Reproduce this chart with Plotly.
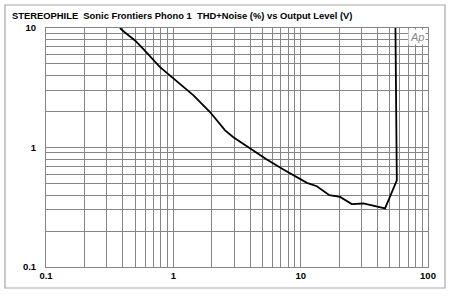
import plotly.graph_objects as go

# Output level (V) and THD+N (%)
output_v = [0.381, 0.41, 0.50, 0.58, 0.786, 0.97, 1.44, 1.94, 2.55, 2.96, 4.0, 5.42, 7.32,
            9.89, 11.2, 13.4, 16.8, 20.4, 25.2, 31.1, 39.6, 46.0, 56.9, 55.5]
thd_pct = [10.0, 9.3, 7.87, 6.7, 4.71, 3.88, 2.73, 1.98, 1.39, 1.22, 0.98, 0.794, 0.655,
           0.551, 0.506, 0.474, 0.399, 0.386, 0.336, 0.340, 0.323, 0.309, 0.532, 10.0]

x_tick_vals = [0.1, 1, 10, 100]
x_tick_text = ["0.1", "1", "10", "100"]
y_tick_vals = [0.1, 1, 10]
y_tick_text = ["0.1", "1", "10"]

title_text = "STEREOPHILE  Sonic Frontiers Phono 1  THD+Noise (%) vs Output Level (V)"

x_minor = [m * d for d in (0.1, 1, 10) for m in range(2, 10)]
y_minor = [m * d for d in (0.1, 1) for m in range(2, 10)]

FONT = "Liberation Sans, Arial, sans-serif"
GRID = "#858585"

fig = go.Figure()
fig.add_trace(go.Scatter(x=output_v, y=thd_pct, mode="lines",
                         line=dict(color="black", width=1.8), showlegend=False,
                         cliponaxis=True))

L, R, T, B = 46, 22, 28, 29
W, H = 450, 296
pw, ph = W - L - R, H - T - B

fig.update_layout(
    width=W, height=H,
    margin=dict(l=L, r=R, t=T, b=B, pad=0),
    paper_bgcolor="white", plot_bgcolor="white",
    font=dict(family=FONT, size=9.5, color="black"),
    xaxis=dict(type="log", range=[-1, 2], tickvals=x_tick_vals, ticktext=x_tick_text,
               showgrid=True, gridcolor=GRID, gridwidth=1, ticks="",
               showline=True, linecolor=GRID, mirror=True, zeroline=False,
               tickfont=dict(family=FONT, size=9.5, color="black", weight="bold"),
               minor=dict(tickvals=x_minor, showgrid=True, gridcolor=GRID, gridwidth=1, ticks="")),
    yaxis=dict(type="log", range=[-1, 1], tickvals=y_tick_vals, ticktext=y_tick_text,
               showgrid=True, gridcolor=GRID, gridwidth=1, ticks="",
               showline=True, linecolor=GRID, mirror=True, zeroline=False,
               ticklabelstandoff=7,
               tickfont=dict(family=FONT, size=9.5, color="black", weight="bold"),
               minor=dict(tickvals=y_minor, showgrid=True, gridcolor=GRID, gridwidth=1, ticks="")),
)

# title
fig.add_annotation(text="<b>" + title_text + "</b>", xref="paper", yref="paper",
                   x=(10 - L) / pw, y=(H - B - 15.5) / ph, xanchor="left", yanchor="middle",
                   showarrow=False, font=dict(family=FONT, size=9.4, color="black"))

# Ap logo
fig.add_annotation(text="<i>Ap</i>", xref="paper", yref="paper",
                   x=(426 - L) / pw, y=(H - B - 37) / ph, xanchor="right", yanchor="middle",
                   showarrow=False, bgcolor="white", borderpad=1,
                   font=dict(family=FONT, size=11, color="#8a8a8a"))

# outer border
fig.add_shape(type="rect", xref="paper", yref="paper",
              x0=(5 - L) / pw, x1=(445 - L) / pw,
              y0=(H - B - 288) / ph, y1=(H - B - 5) / ph,
              line=dict(color="#a8a8a8", width=1.2), layer="below")

fig.write_html("out.html")
